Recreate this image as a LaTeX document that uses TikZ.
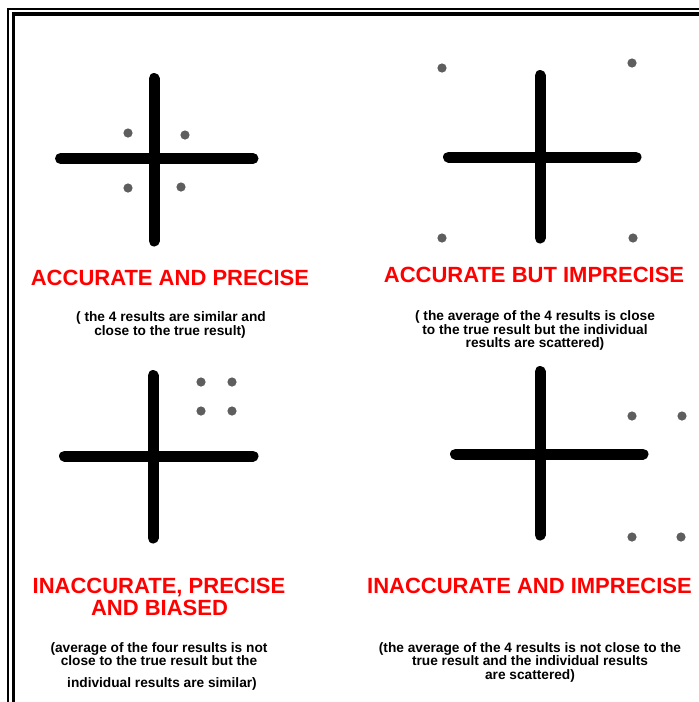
\documentclass[tikz,border=0pt]{standalone}
\usepackage{fontspec}
\setmainfont{Liberation Sans}
\definecolor{dotgray}{HTML}{5E5E5E}
\definecolor{titlered}{HTML}{FF0000}
\tikzset{
  crossline/.style={line width=11pt, line cap=round, black},
  dotmark/.style={fill=dotgray, draw=none},
  titletext/.style={anchor=base, inner sep=0pt, text=titlered, font=\fontsize{22}{24}\selectfont\bfseries},
  captext/.style={anchor=base, inner sep=0pt, text=black, font=\fontsize{13.7}{14}\selectfont\bfseries},
  frameline/.style={black}
}
\begin{document}
\begin{tikzpicture}[x=1pt,y=-1pt]
\useasboundingbox (0,0) rectangle (699,702);
\fill[white] (0,0) rectangle (699,702);
% frame
\draw[frameline, line width=2pt] (8,702) -- (8,8.5) -- (699,8.5);
\draw[frameline, line width=3.5pt] (13.5,702) -- (13.5,13.8) -- (699,13.8);

% top-left cross
\draw[crossline] (154,78.5) -- (154,241);
\draw[crossline] (60.5,158.5) -- (253,158.5);
\foreach \p in {(128,133),(185,135),(128,188),(181,187)} \fill[dotmark] \p circle (4.6);

% top-right cross
\draw[crossline] (540,75.5) -- (540,238);
\draw[crossline] (448.5,157) -- (636,157);
\foreach \p in {(442,68),(632,63),(442,238),(633,238)} \fill[dotmark] \p circle (4.6);

% bottom-left cross
\draw[crossline] (153,375.5) -- (153,538);
\draw[crossline] (64.5,456) -- (253,456);
\foreach \p in {(201,382),(232,382),(201,411),(232,411)} \fill[dotmark] \p circle (4.6);

% bottom-right cross
\draw[crossline] (540,371.5) -- (540,535);
\draw[crossline] (455.5,454) -- (643,454);
\foreach \p in {(632,416),(682,416),(632,537),(681,537)} \fill[dotmark] \p circle (4.6);

% titles
\node[titletext] (t1) at (170,285) {ACCURATE AND PRECISE};
\node[titletext] (t2) at (534,282) {ACCURATE BUT IMPRECISE};
\node[titletext] (t3a) at (159,593) {INACCURATE, PRECISE};
\node[titletext] (t3b) at (159.5,615) {AND BIASED};
\node[titletext] (t4) at (529.5,593) {INACCURATE AND IMPRECISE};

% captions
\node[captext] (c1a) at (171,321) {( the 4 results are similar and};
\node[captext] (c1b) at (170,335) {close to the true result)};
\node[captext] (c2a) at (535,320) {( the average of the 4 results is close};
\node[captext] (c2b) at (535,334) {to the true result but the individual};
\node[captext] (c2c) at (535,347) {results are scattered)};
\node[captext] (c3a) at (159,652) {(average of the four results is not};
\node[captext] (c3b) at (159,665) {close to the true result but the};
\node[captext] (c3c) at (162,687) {individual results are similar)};
\node[captext] (c4a) at (530,652) {(the average of the 4 results is not close to the};
\node[captext] (c4b) at (530,665.5) {true result and the individual results};
\node[captext] (c4c) at (530,679) {are scattered)};
\end{tikzpicture}
\end{document}
